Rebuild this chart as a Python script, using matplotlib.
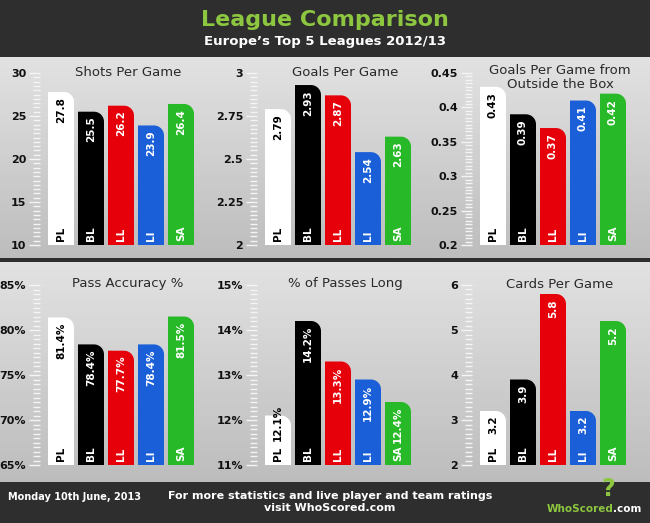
import numpy as np
import matplotlib
matplotlib.use("Agg")
import matplotlib.pyplot as plt
from matplotlib.path import Path
from matplotlib.patches import PathPatch

leagues = ["PL", "BL", "LL", "LI", "SA"]
bar_colors = ["#ffffff", "#000000", "#e5000a", "#1b5fd8", "#27b927"]
text_colors = ["#000000", "#ffffff", "#ffffff", "#ffffff", "#ffffff"]

titles = ["Shots Per Game", "Goals Per Game", "Goals Per Game from\nOutside the Box",
          "Pass Accuracy %", "% of Passes Long", "Cards Per Game"]
shots = [27.8, 25.5, 26.2, 23.9, 26.4]
goals = [2.79, 2.93, 2.87, 2.54, 2.63]
goals_outside = [0.43, 0.39, 0.37, 0.41, 0.42]
pass_acc = [81.4, 78.4, 77.7, 78.4, 81.5]
passes_long = [12.1, 14.2, 13.3, 12.9, 12.4]
cards = [3.2, 3.9, 5.8, 3.2, 5.2]
series = [shots, goals, goals_outside, pass_acc, passes_long, cards]
value_fmt = ["{:.1f}", "{:.2f}", "{:.2f}", "{:.1f}%", "{:.1f}%", "{:.1f}"]
yranges = [(10, 30), (2, 3), (0.2, 0.45), (65, 85), (11, 15), (2, 6)]
major = [[10, 15, 20, 25, 30], [2, 2.25, 2.5, 2.75, 3], [0.2, 0.25, 0.3, 0.35, 0.4, 0.45],
         [65, 70, 75, 80, 85], [11, 12, 13, 14, 15], [2, 3, 4, 5, 6]]
major_lbl = [["10", "15", "20", "25", "30"], ["2", "2.25", "2.5", "2.75", "3"],
             ["0.2", "0.25", "0.3", "0.35", "0.4", "0.45"],
             ["65%", "70%", "75%", "80%", "85%"], ["11%", "12%", "13%", "14%", "15%"],
             ["2", "3", "4", "5", "6"]]

W, H = 650, 523
fig = plt.figure(figsize=(6.5, 5.23), dpi=100)
fig.patch.set_facecolor("#2e2e2e")
FONT = "DejaVu Sans"


def px_axes(x0, y0, x1, y1):
    return fig.add_axes([x0 / W, 1 - y1 / H, (x1 - x0) / W, (y1 - y0) / H])


# panel backgrounds
for (t, b) in [(57, 258), (262, 482)]:
    bg = px_axes(0, t, W, b)
    grad = np.linspace(0, 1, 100)[:, None]
    bg.imshow(grad, aspect="auto", cmap=matplotlib.colors.LinearSegmentedColormap.from_list(
        "g", ["#e2e2e2", "#bdbdbd"]), extent=[0, 1, 0, 1], origin="upper")
    bg.axis("off")

fig.text(325 / W, 1 - 20 / H, "League Comparison", color="#8dc63f", fontsize=16,
         fontweight="bold", ha="center", va="center", family=FONT)
fig.text(325 / W, 1 - 42 / H, "Europe\u2019s Top 5 Leagues 2012/13", color="white",
         fontsize=9.5, fontweight="bold", ha="center", va="center", family=FONT)
fig.text(8 / W, 1 - 497 / H, "Monday 10th June, 2013", color="white", fontsize=7,
         fontweight="bold", ha="left", va="center", family=FONT)
fig.text(330 / W, 1 - 502 / H, "For more statistics and live player and team ratings\nvisit WhoScored.com",
         color="white", fontsize=8, fontweight="bold", ha="center", va="center",
         family=FONT, linespacing=1.2)
fig.text(580 / W, 1 - 509 / H, "WhoScored", color="#8dc63f", fontsize=7.5, fontweight="bold",
         ha="center", va="center", family=FONT)
fig.text(627 / W, 1 - 509 / H, ".com", color="white", fontsize=7.5, fontweight="bold",
         ha="center", va="center", family=FONT)
fig.text(608 / W, 1 - 489 / H, "?", color="#8dc63f", fontsize=17, fontweight="bold",
         ha="center", va="center", family=FONT)

col_left = [40, 257, 472]
rows = [(73, 245), (285, 465)]


def rounded_bar(ax, x, w, y0, y1, r_px, ppu):
    ry = min(r_px / ppu, y1 - y0)
    rx = r_px
    th = np.linspace(np.pi / 2, 0, 12)
    cx, cy = x + w - rx, y1 - ry
    arc_pts = [(cx + rx * np.cos(a), cy + ry * np.sin(a)) for a in th]
    verts = [(x, y0), (x, y1)] + arc_pts + [(x + w, y0), (x, y0)]
    return PathPatch(Path(verts), edgecolor="none")


for k in range(6):
    r, c = divmod(k, 3)
    top, bot = rows[r]
    left = col_left[c]
    ax = px_axes(left, top, left + 160, bot)
    lo, hi = yranges[k]
    ax.set_xlim(0, 160)
    ax.set_ylim(lo, hi)
    ax.patch.set_alpha(0)
    for s in ax.spines.values():
        s.set_visible(False)
    ax.set_xticks([])
    ax.set_yticks(major[k])
    ax.set_yticklabels(major_lbl[k])
    step = (major[k][1] - major[k][0]) / 10
    ax.set_yticks(np.arange(lo, hi + step / 2, step), minor=True)
    ax.tick_params(axis="y", which="major", length=8, width=1, color="#f4f4f4",
                   labelsize=8, labelcolor="#111111", pad=2)
    ax.tick_params(axis="y", which="minor", length=5, width=1, color="#f4f4f4")
    for lab in ax.get_yticklabels():
        lab.set_fontweight("bold")
    ppu = (bot - top) / (hi - lo)
    for i, v in enumerate(series[k]):
        x = 8 + 30 * i
        p = rounded_bar(ax, x, 26, lo, v, 10, ppu)
        p.set_facecolor(bar_colors[i])
        ax.add_patch(p)
        ax.text(x + 13, lo + 4 / ppu, leagues[i], rotation=90, ha="center", va="bottom",
                color=text_colors[i], fontsize=7.5, fontweight="bold", family=FONT)
        txt = value_fmt[k].format(v)
        h_px = (v - lo) * ppu
        if h_px < 22 + 6 * len(txt) + 8:
            ax.text(x + 13, lo + 24 / ppu, txt, rotation=90, ha="center", va="bottom",
                    color=text_colors[i], fontsize=7.5, fontweight="bold", family=FONT)
        else:
            ax.text(x + 13, v - 5 / ppu, txt, rotation=90, ha="center", va="top",
                    color=text_colors[i], fontsize=7.5, fontweight="bold", family=FONT)
    title_y = top - 1 if "\n" not in titles[k] else top + 5
    fig.text((left + 88) / W, 1 - title_y / H, titles[k], ha="center", va="center",
             fontsize=9.5, color="#2a2a2a", family=FONT, linespacing=1.1)

fig.savefig("out.png", dpi=100, facecolor=fig.get_facecolor())
